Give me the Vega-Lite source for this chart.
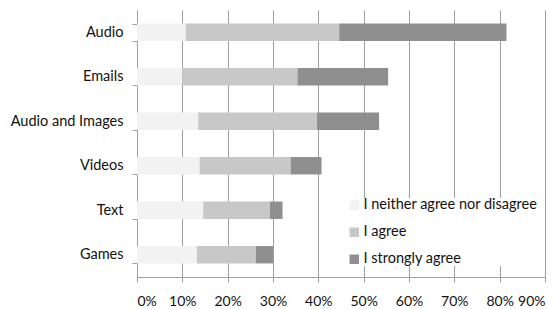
{
  "$schema": "https://vega.github.io/schema/vega-lite/v6.json",
  "width": 408,
  "height": 267,
  "autosize": {"type": "none"},
  "padding": {"left": 137, "top": 10, "right": 14, "bottom": 32},
  "background": "white",
  "config": {
    "view": {"stroke": null},
    "font": "Lato",
    "axis": {"labelFont": "Lato", "labelColor": "#111", "labelFontSize": 14.5}
  },
  "data": {
    "values": [
      {"category": "Audio", "response": "I neither agree nor disagree", "rank": 1, "value": 10.75},
      {"category": "Audio", "response": "I agree", "rank": 2, "value": 33.85},
      {"category": "Audio", "response": "I strongly agree", "rank": 3, "value": 36.9},
      {"category": "Emails", "response": "I neither agree nor disagree", "rank": 1, "value": 10.0},
      {"category": "Emails", "response": "I agree", "rank": 2, "value": 25.4},
      {"category": "Emails", "response": "I strongly agree", "rank": 3, "value": 20.0},
      {"category": "Audio and Images", "response": "I neither agree nor disagree", "rank": 1, "value": 13.5},
      {"category": "Audio and Images", "response": "I agree", "rank": 2, "value": 26.2},
      {"category": "Audio and Images", "response": "I strongly agree", "rank": 3, "value": 13.7},
      {"category": "Videos", "response": "I neither agree nor disagree", "rank": 1, "value": 13.8},
      {"category": "Videos", "response": "I agree", "rank": 2, "value": 20.1},
      {"category": "Videos", "response": "I strongly agree", "rank": 3, "value": 6.8},
      {"category": "Text", "response": "I neither agree nor disagree", "rank": 1, "value": 14.6},
      {"category": "Text", "response": "I agree", "rank": 2, "value": 14.7},
      {"category": "Text", "response": "I strongly agree", "rank": 3, "value": 2.8},
      {"category": "Games", "response": "I neither agree nor disagree", "rank": 1, "value": 13.2},
      {"category": "Games", "response": "I agree", "rank": 2, "value": 13.0},
      {"category": "Games", "response": "I strongly agree", "rank": 3, "value": 3.8}
    ]
  },
  "mark": {"type": "bar"},
  "encoding": {
    "y": {
      "field": "category",
      "type": "nominal",
      "sort": ["Audio", "Emails", "Audio and Images", "Videos", "Text", "Games"],
      "scale": {"paddingInner": 0.61, "paddingOuter": 0.305},
      "axis": {
        "title": null,
        "tickBand": "extent",
        "domainColor": "#a0a0a0",
        "tickColor": "#a0a0a0",
        "tickSize": 5,
        "labelPadding": 9
      }
    },
    "x": {
      "field": "value",
      "type": "quantitative",
      "stack": "zero",
      "scale": {"domain": [0, 90], "nice": false},
      "axis": {
        "title": null,
        "values": [0, 10, 20, 30, 40, 50, 60, 70, 80, 90],
        "labelExpr": "datum.value + '%'",
        "labelFontSize": 14,
        "labelOverlap": false,
        "grid": true,
        "gridColor": "#a0a0a0",
        "domainColor": "#a0a0a0",
        "tickColor": "#a0a0a0",
        "tickSize": 5,
        "labelPadding": 12
      }
    },
    "order": {"field": "rank", "type": "quantitative"},
    "color": {
      "field": "response",
      "type": "nominal",
      "sort": ["I neither agree nor disagree", "I agree", "I strongly agree"],
      "scale": {
        "domain": ["I neither agree nor disagree", "I agree", "I strongly agree"],
        "range": ["#f2f2f2", "#c8c8c8", "#8f8f8f"]
      },
      "legend": {
        "title": null,
        "orient": "none",
        "legendX": 210,
        "legendY": 188,
        "symbolType": "square",
        "symbolSize": 90,
        "symbolStrokeWidth": 0,
        "labelFontSize": 14.5,
        "labelFont": "Lato",
        "labelColor": "#111",
        "labelLimit": 300,
        "rowPadding": 12,
        "labelOffset": 2,
        "fillColor": "white"
      }
    }
  }
}
